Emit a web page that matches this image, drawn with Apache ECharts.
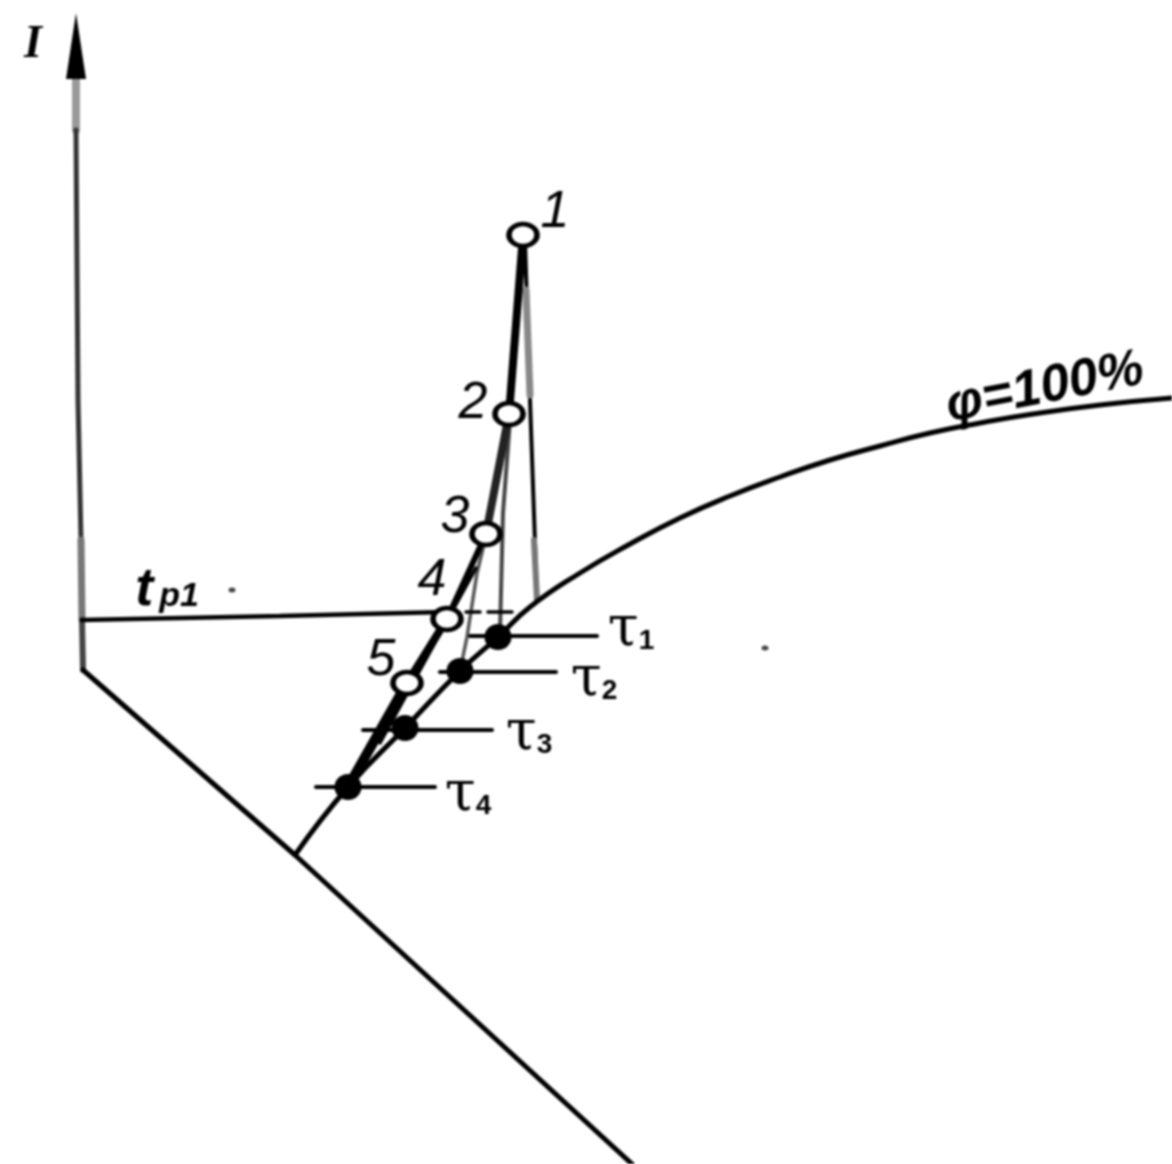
<!DOCTYPE html>
<html lang="en">
<head>
    <meta charset="UTF-8">
    <title>I-t diagram</title>
    <script src="https://cdn.jsdelivr.net/npm/echarts@6/dist/echarts.min.js"></script>
    <style>
        html, body { margin: 0; padding: 0; background: #fff; }
        #container { width: 1172px; height: 1164px; filter: blur(0.8px); }
    </style>
</head>
<body>
<div id="container"></div>
<script>
    // values, in the units of the hidden axes
    var axisI = [[76, 130], [78, 400], [81, 540]];
    var axisITop = [[76, 75], [76, 130]];
    var axisILow = [[81, 540], [82, 620]];
    var axisICorner = [[82, 620], [83, 670]];
    var axisD = [[83, 670], [295, 855], [632, 1164]];
    var curve100 = [[295, 855], [348, 787], [405, 728], [460, 671], [498, 637], [530, 607], [580, 573], [630, 544], [680, 518], [730, 496], [780, 477], [830, 460], [880, 446], [930, 433], [980, 423], [1033, 414], [1100, 405], [1172, 398]];
    var isotherm = [[82, 620], [280, 616], [445, 612]];
    var isothermTicks = [[[488, 612], [512, 612]], [[466, 612], [480, 612]]];

    var heavy12 = [[523, 235], [509, 414]];
    var heavy23 = [[509, 414], [486, 534]];
    var heavy34 = [[486, 534], [447, 619]];
    var heavy45 = [[447, 619], [407, 683]];
    var heavy5e = [[407, 683], [348, 787]];
    var inner3 = [[476, 568], [380, 743]];

    var drop1 = [[525, 240], [530, 400], [537, 600]];
    var drop1Grey = [[526, 290], [530, 395]];
    var drop1Foot = [[534, 540], [537, 600]];
    var drop2 = [[510, 420], [503, 513], [500, 632]];
    var drop3 = [[485, 540], [477, 573], [467, 637], [460, 671]];

    var tauLines = [
        [[470, 636], [597, 636]],
        [[440, 672], [556, 672]],
        [[363, 730], [492, 730]],
        [[316, 787], [435, 787]]
    ];
    var openDots = [[523, 235], [509, 414], [486, 534], [447, 619], [407, 683]];
    var filledDots = [[498, 637], [460, 671], [405, 728], [348, 787]];
    var arrowHead = [[76, 46]];
    var specks = [[765, 648], [232, 590]];

    var pointNames = ['1', '2', '3', '4', '5'];
    var pointNamePos = [[555, 213], [473, 404], [455, 518], [432, 581], [381, 661]];
    var tauNames = ['{t|τ}{s|1}', '{t|τ}{s|2}', '{t|τ}{s|3}', '{t|τ}{s|4}'];
    var tauNamePos = [[631, 630], [594, 680], [529, 734], [468, 795]];

    var myChart = echarts.init(document.getElementById('container'));

    function path(data, width, color) {
        return {
            type: 'line', data: data, symbol: 'none', silent: true, clip: false,
            lineStyle: { width: width, color: color || '#000', cap: 'round' }
        };
    }
    function text(data, label) {
        return {
            type: 'scatter', data: data, symbolSize: 0, silent: true, z: 5,
            itemStyle: { opacity: 1 },
            label: Object.assign({ show: true, position: 'inside', color: '#000' }, label)
        };
    }
    function dots(data, size, style, shape) {
        return {
            type: 'scatter', data: data, symbol: shape || 'circle', symbolSize: size, silent: true, z: 4,
            itemStyle: Object.assign({ opacity: 1 }, style)
        };
    }

    var series = [
        path(axisITop, 8, '#999'),
        path(axisI, 5, '#333'),
        path(axisILow, 7, '#777'),
        path(axisICorner, 6, '#444'),
        path(axisD, 5),
        path(isotherm, 4.5),
        path(drop1, 4),
        path(drop1Grey, 7, '#888'),
        path(drop1Foot, 6, '#777'),
        path(drop2, 4, '#444'),
        path(drop3, 3.5, '#555'),
        path(heavy12, 8),
        path(heavy23, 8, '#222'),
        path(heavy34, 6),
        path(heavy45, 8),
        path(heavy5e, 10),
        path(inner3, 3.5)
    ];
    isothermTicks.forEach(function (t) { series.push(path(t, 3.5)); });
    tauLines.forEach(function (t) { series.push(path(t, 4)); });
    var curveSeries = path(curve100, 5);
    curveSeries.smooth = 0.5;
    series.push(curveSeries);

    series.push(dots(arrowHead, [20, 66], { color: '#000' }, 'triangle'));
    series.push(dots(openDots, [28, 22], { color: '#fff', borderColor: '#000', borderWidth: 5 }));
    series.push(dots(filledDots, [27, 26], { color: '#000' }));
    series.push(dots(specks, [7, 5], { color: '#444' }));

    pointNames.forEach(function (n, i) {
        series.push(text([pointNamePos[i]], {
            formatter: n, fontFamily: 'Liberation Sans', fontStyle: 'italic', fontSize: 52
        }));
    });
    tauNames.forEach(function (n, i) {
        series.push(text([tauNamePos[i]], {
            formatter: n,
            rich: {
                t: { fontFamily: 'DejaVu Serif', fontSize: 56, color: '#000' },
                s: { fontFamily: 'Liberation Sans', fontWeight: 'bold', fontSize: 28, color: '#000', padding: [22, 0, 0, 0] }
            }
        }));
    });
    series.push(text([[33, 45]], { formatter: 'I', fontFamily: 'Liberation Serif', fontStyle: 'italic', fontWeight: 'bold', fontSize: 46 }));
    series.push(text([[167, 590]], {
        formatter: '{t|t}{s|p1}',
        rich: {
            t: { fontFamily: 'Liberation Sans', fontStyle: 'italic', fontWeight: 'bold', fontSize: 54, color: '#000' },
            s: { fontFamily: 'Liberation Sans', fontStyle: 'italic', fontWeight: 'bold', fontSize: 34, color: '#000', padding: [14, 0, 0, 6] }
        }
    }));
    series.push(text([[1045, 388]], {
        formatter: 'φ=100%', fontFamily: 'Liberation Sans', fontStyle: 'italic', fontWeight: 'bold', fontSize: 52, rotate: 11
    }));

    var option = {
        animation: false,
        backgroundColor: '#fff',
        grid: { left: 0, right: 0, top: 0, bottom: 0 },
        xAxis: { type: 'value', min: 0, max: 1172, show: false },
        yAxis: { type: 'value', min: 0, max: 1164, inverse: true, show: false },
        series: series
    };
    myChart.setOption(option);
</script>
</body>
</html>
